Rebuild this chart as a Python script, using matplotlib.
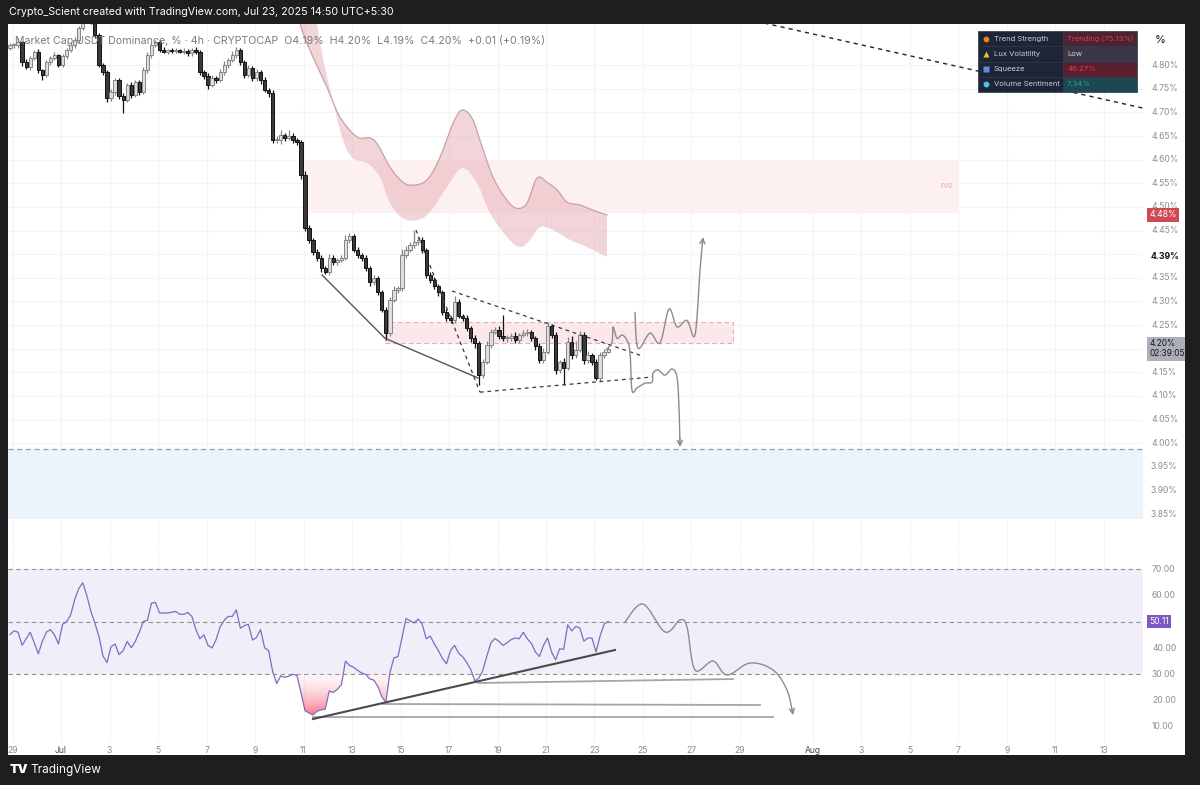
import numpy as np
import pandas as pd
import matplotlib
matplotlib.use("Agg")
import matplotlib.pyplot as plt
from matplotlib.patches import Rectangle, PathPatch
from matplotlib.path import Path
from matplotlib.colors import LinearSegmentedColormap
import matplotlib.transforms as mtransforms

plt.rcParams['font.family'] = ['Inter', 'DejaVu Sans']

# ---------------- data ----------------
# 4h candles of USDT dominance (%), x axis = day of July (Jul 1 00:00 = 1)
bar_start = "2025-06-28 21:30"
first_open = 4.836
closes = [
    4.842, 4.842, 4.849, 4.806, 4.796, 4.815, 4.828, 4.789, 4.779, 4.806,
    4.815, 4.821, 4.800, 4.819, 4.832, 4.842, 4.853, 4.878, 4.895, 4.906,
    4.891, 4.863, 4.800, 4.785, 4.730, 4.743, 4.768, 4.734, 4.726, 4.758,
    4.737, 4.764, 4.743, 4.789, 4.821, 4.842, 4.849, 4.832, 4.828, 4.832,
    4.830, 4.832, 4.828, 4.830, 4.825, 4.832, 4.828, 4.785, 4.777, 4.758,
    4.772, 4.768, 4.785, 4.800, 4.811, 4.821, 4.832, 4.806, 4.779, 4.794,
    4.772, 4.785, 4.768, 4.747, 4.741, 4.641, 4.641, 4.652, 4.646, 4.650,
    4.641, 4.637, 4.567, 4.455, 4.430, 4.404, 4.392, 4.370, 4.362, 4.392,
    4.383, 4.387, 4.392, 4.430, 4.438, 4.409, 4.398, 4.392, 4.370, 4.341,
    4.349, 4.320, 4.282, 4.233, 4.303, 4.324, 4.328, 4.398, 4.409, 4.419,
    4.425, 4.430, 4.409, 4.356, 4.345, 4.332, 4.320, 4.277, 4.265, 4.260,
    4.299, 4.269, 4.265, 4.243, 4.222, 4.212, 4.144, 4.172, 4.208, 4.235,
    4.239, 4.227, 4.222, 4.222, 4.227, 4.218, 4.229, 4.233, 4.235, 4.222,
    4.205, 4.176, 4.193, 4.248, 4.229, 4.155, 4.172, 4.159, 4.214, 4.186,
    4.197, 4.229, 4.176, 4.186, 4.172, 4.138, 4.186, 4.193, 4.200]
# wick extension beyond the body, in thousandths of a percent
wick_up = [
    5, 4, 8, 3, 6, 5, 4, 6, 3, 5, 4, 6, 3, 5, 4, 6, 7, 5, 8, 6,
    9, 17, 6, 5, 4, 6, 5, 4, 6, 5, 6, 4, 5, 8, 6, 7, 5, 4, 6, 3,
    5, 4, 3, 6, 5, 4, 6, 5, 4, 6, 7, 5, 6, 8, 5, 9, 6, 4, 5, 6,
    5, 6, 4, 7, 5, 6, 8, 10, 5, 12, 6, 5, 4, 8, 6, 5, 7, 6, 5, 8,
    6, 5, 6, 10, 7, 5, 6, 4, 6, 5, 6, 5, 4, 7, 6, 8, 5, 12, 9, 7,
    26, 8, 6, 5, 7, 6, 5, 4, 6, 5, 12, 6, 5, 7, 5, 6, 5, 6, 8, 7,
    6, 8, 45, 7, 6, 8, 5, 7, 6, 5, 4, 6, 8, 7, 5, 6, 4, 8, 10, 12,
    20, 8, 6, 10, 5, 6, 8, 6, 4]
wick_dn = [
    4, 6, 5, 7, 5, 6, 4, 6, 11, 5, 6, 4, 5, 3, 6, 4, 5, 6, 4, 5,
    5, 6, 4, 6, 8, 5, 7, 6, 28, 5, 6, 5, 7, 4, 5, 6, 4, 5, 3, 5,
    4, 5, 3, 4, 5, 6, 4, 5, 6, 8, 5, 6, 4, 5, 6, 4, 5, 6, 7, 5,
    6, 5, 7, 4, 8, 6, 5, 7, 6, 5, 6, 5, 8, 6, 7, 5, 6, 8, 5, 6,
    5, 6, 4, 5, 6, 5, 7, 6, 5, 8, 6, 7, 5, 14, 6, 5, 7, 5, 6, 5,
    6, 5, 7, 6, 5, 6, 8, 6, 7, 5, 6, 5, 7, 6, 8, 10, 21, 6, 5, 7,
    5, 6, 5, 7, 6, 5, 6, 5, 7, 6, 8, 7, 6, 5, 7, 8, 6, 36, 5, 7,
    6, 5, 8, 6, 7, 5, 6, 5, 3]
rsi = [
    45.1, 46.5, 46.0, 41.0, 43.5, 46.0, 42.0, 37.8, 42.5, 46.0,
    47.0, 45.0, 41.5, 49.0, 50.0, 52.5, 58.3, 62.5, 64.8, 60.0,
    54.0, 49.5, 44.5, 37.0, 34.5, 40.5, 41.5, 37.5, 39.0, 42.5,
    40.1, 42.5, 46.0, 50.1, 50.5, 57.0, 57.3, 53.3, 53.3, 53.3,
    53.6, 53.9, 52.8, 52.8, 53.5, 52.0, 47.0, 43.5, 45.0, 41.0,
    40.0, 43.2, 48.0, 50.5, 52.0, 52.0, 54.5, 47.5, 48.5, 49.0,
    43.0, 44.0, 47.0, 40.1, 39.0, 31.0, 26.5, 29.4, 28.9, 29.3,
    30.0, 29.6, 23.1, 16.2, 15.3, 14.6, 16.0, 16.5, 16.8, 23.7,
    23.1, 24.3, 26.0, 35.0, 33.4, 32.7, 31.5, 30.5, 30.0, 28.3,
    27.8, 25.5, 21.5, 19.3, 30.6, 36.3, 36.7, 44.0, 51.2, 50.3,
    49.5, 51.0, 49.0, 43.5, 44.5, 41.5, 39.0, 36.0, 34.0, 39.0,
    41.0, 38.0, 36.7, 34.5, 31.9, 27.5, 28.5, 31.5, 37.0, 42.0,
    43.6, 42.5, 41.0, 42.0, 43.2, 43.8, 43.5, 46.0, 43.5, 41.8,
    38.5, 36.8, 41.0, 43.8, 38.5, 35.5, 39.7, 39.5, 48.8, 46.5,
    48.2, 47.6, 42.6, 43.8, 43.8, 38.5, 44.5, 49.0, 50.11]

# zones (day-of-July, price %)
fvg_days = [10.979, 37.990]
fvg_prices = [4.487, 4.600]
box_days = [14.361, 28.711]
box_prices = [4.212, 4.256]
demand_prices = [3.840, 3.988]

# supply cloud
cloud_up_day = [10.773, 10.938, 11.392, 11.969, 12.505, 13.206, 13.742, 14.072, 14.567,
                15.103, 15.515, 16.093, 16.629, 17.165, 17.536, 17.948, 18.278, 18.814,
                19.392, 19.804, 20.216, 20.629, 21.041, 21.454, 21.866, 22.402, 22.938, 23.515]
cloud_up_price = [4.916, 4.874, 4.817, 4.753, 4.690, 4.648, 4.646, 4.631, 4.584,
                  4.552, 4.546, 4.557, 4.605, 4.677, 4.705, 4.688, 4.641, 4.563,
                  4.514, 4.497, 4.508, 4.561, 4.552, 4.536, 4.510, 4.504, 4.493, 4.483]
cloud_lo_day = [11.515, 11.598, 11.845, 12.175, 12.629, 13.041, 13.619, 14.155, 14.567,
                15.103, 15.680, 16.216, 16.918, 17.536, 18.155, 18.691, 19.392, 19.928,
                20.340, 20.753, 21.289, 21.990, 22.691, 23.515]
cloud_lo_price = [4.916, 4.874, 4.804, 4.732, 4.641, 4.603, 4.593, 4.563, 4.508,
                  4.476, 4.472, 4.489, 4.542, 4.582, 4.550, 4.487, 4.436, 4.415,
                  4.430, 4.457, 4.451, 4.430, 4.415, 4.394]

# drawings on price pane
wedge_day = [11.763, 14.361, 18.196]
wedge_price = [4.356, 4.222, 4.138]
steep_day = [15.639, 18.278]
steep_price = [4.451, 4.108]
tri_low_day = [18.278, 25.371]
tri_low_price = [4.108, 4.140]
tri_up_day = [17.124, 25.000]
tri_up_price = [4.322, 4.184]
long_trend_day = [30.0, 45.62]
long_trend_price = [4.889, 4.709]
bear_day = [23.474, 23.722, 23.763, 23.928, 24.134, 24.340, 24.464, 24.546, 24.753,
            25.082, 25.371, 25.412, 25.619, 25.907, 26.196, 26.402, 26.485, 26.526]
bear_price = [4.197, 4.214, 4.246, 4.222, 4.229, 4.218, 4.193, 4.112, 4.117,
              4.127, 4.129, 4.148, 4.155, 4.144, 4.157, 4.140, 4.076, 3.992]
bull_day = [24.670, 24.794, 25.289, 25.701, 26.072, 26.402, 26.814, 27.144, 27.351, 27.474]
bull_price = [4.277, 4.201, 4.233, 4.212, 4.284, 4.246, 4.260, 4.229, 4.366, 4.436]

# drawings on RSI pane
rsi_trend_day = [11.392, 23.845]
rsi_trend_val = [13.03, 39.24]
rsi_h1_day, rsi_h1_val = [11.392, 30.361], [13.79, 13.79]
rsi_h2_day, rsi_h2_val = [14.278, 29.825], [18.73, 18.35]
rsi_h3_day, rsi_h3_val = [18.196, 28.711], [26.70, 28.22]
rsi_proj_day = [24.258, 25.0, 25.907, 26.526, 26.814, 27.144, 27.887, 28.464,
                29.412, 30.361, 30.938, 31.186]
rsi_proj_val = [49.87, 56.71, 46.07, 50.63, 47.97, 31.64, 35.06, 29.74,
                34.30, 31.64, 24.04, 14.55]

tick_days = [-1, 1, 3, 5, 7, 9, 11, 13, 15, 17, 19, 21, 23, 25, 27, 29, 32, 34, 36, 38, 40, 42, 44]
tick_labels = ["29", "Jul", "3", "5", "7", "9", "11", "13", "15", "17", "19", "21", "23",
               "25", "27", "29", "Aug", "3", "5", "7", "9", "11", "13"]
price_ticks = [3.85, 3.90, 3.95, 4.00, 4.05, 4.10, 4.15, 4.25, 4.30, 4.35,
               4.45, 4.50, 4.55, 4.60, 4.65, 4.70, 4.75, 4.80]
rsi_ticks = [10, 20, 30, 40, 60, 70]

table_names = ["Trend Strength", "Lux Volatility", "Squeeze", "Volume Sentiment"]
table_values = ["Trending (75.13%)", "Low", "46.27%", "7.34%"]

# ---------------- helpers ----------------
def catmull(xs, ys, n=14):
    P = np.column_stack([xs, ys]).astype(float)
    P = np.vstack([P[0], P, P[-1]])
    out = []
    t = np.linspace(0, 1, n, endpoint=False)[:, None]
    for i in range(1, len(P) - 2):
        p0, p1, p2, p3 = P[i - 1], P[i], P[i + 1], P[i + 2]
        seg = 0.5 * ((2 * p1) + (-p0 + p2) * t + (2 * p0 - 5 * p1 + 4 * p2 - p3) * t ** 2
                     + (-p0 + 3 * p1 - 3 * p2 + p3) * t ** 3)
        out.append(seg)
    out.append(P[-2][None, :])
    return np.vstack(out)

W, H = 1200, 785
def fr(x0, y0, x1, y1):
    return [x0 / W, 1 - y1 / H, (x1 - x0) / W, (y1 - y0) / H]

XMIN, XMAX = -1.186, 45.619

fig = plt.figure(figsize=(12, 7.85), dpi=100, facecolor='#1e1e1e')
fig.patches.append(Rectangle((8 / W, 1 - 755 / H), 1177 / W, 731 / H, transform=fig.transFigure,
                             facecolor='white', edgecolor='none', zorder=-5))

ax = fig.add_axes(fr(8, 24, 1143, 550))
ax2 = fig.add_axes(fr(8, 552, 1143, 742))
for a in (ax, ax2):
    a.set_facecolor('white')
    for s in a.spines.values():
        s.set_visible(False)
    a.set_xlim(XMIN, XMAX)
    a.tick_params(left=False, labelleft=False, right=False, labelright=False)
ax.set_ylim(3.774, 4.887)
ax2.set_ylim(4.30, 76.46)
ax.tick_params(bottom=False, labelbottom=False)

# grid
for d in tick_days:
    ax.axvline(d, color='#f2f3f6', lw=0.8, zorder=0)
    ax2.axvline(d, color='#f2f3f6', lw=0.8, zorder=0)
for p in price_ticks + [4.20, 4.40]:
    ax.axhline(p, color='#f3f4f7', lw=0.8, zorder=0)

# ---------------- price pane ----------------
ax.axhspan(demand_prices[0], demand_prices[1], color='#edf3fd', zorder=0.5, lw=0)
ax.axhline(demand_prices[1], color='#8d9fbd', lw=0.9, ls=(0, (4, 3)), zorder=0.6)

ax.add_patch(Rectangle((fvg_days[0], fvg_prices[0]), fvg_days[1] - fvg_days[0],
                       fvg_prices[1] - fvg_prices[0], facecolor='#fdf0f1', edgecolor='none', zorder=0.6))
ax.text(fvg_days[1] - 0.2, np.mean(fvg_prices), "FVG", color='#e6a3aa', fontsize=4.5,
        ha='right', va='center', zorder=0.7)

up_s = catmull(cloud_up_day, cloud_up_price)
lo_s = catmull(cloud_lo_day, cloud_lo_price)
poly = np.vstack([up_s, lo_s[::-1]])
ax.fill(poly[:, 0], poly[:, 1], facecolor='#e7b3b8', alpha=0.55, edgecolor='none', zorder=0.8)
ax.plot(up_s[:, 0], up_s[:, 1], color='#c9a1a5', lw=0.9, zorder=0.85)

ax.add_patch(Rectangle((box_days[0], box_prices[0]), box_days[1] - box_days[0],
                       box_prices[1] - box_prices[0], facecolor='#fce8ea', edgecolor='#dcb0b5',
                       lw=0.8, ls=(0, (4, 3)), zorder=0.9))

# candles
bar_times = pd.date_range(bar_start, periods=len(closes), freq='4h')
bx = ((bar_times - pd.Timestamp('2025-07-01')) / pd.Timedelta(days=1)).to_numpy() + 1.0
c = np.array(closes)
o = np.array([first_open] + closes[:-1])
hi = np.maximum(o, c) + np.array(wick_up) / 1000
lo = np.minimum(o, c) - np.array(wick_dn) / 1000
bull = c >= o
wick_col = np.where(bull, '#858585', '#111111')
face = np.where(bull, '#dedede', '#3a3a3a')
edge = np.where(bull, '#858585', '#111111')
ax.vlines(bx, lo, hi, colors=wick_col, lw=0.9, zorder=2)
ax.bar(bx, np.maximum(np.abs(c - o), 0.0018), bottom=np.minimum(o, c), width=0.135,
       color=face, edgecolor=edge, linewidth=0.7, zorder=2.1)

# drawings
ax.plot(wedge_day, wedge_price, color='#555555', lw=1.0, zorder=3)
for dx, dy in [(steep_day, steep_price), (tri_low_day, tri_low_price), (tri_up_day, tri_up_price)]:
    ax.plot(dx, dy, color='#3a3a3a', lw=0.9, ls=(0, (3, 3)), zorder=3)
ax.plot(long_trend_day, long_trend_price, color='#222222', lw=1.0, ls=(0, (3, 3)), zorder=3)

for dd, pp, col in [(bear_day, bear_price, '#8c8c8c'), (bull_day, bull_price, '#8c8c8c')]:
    s = catmull(dd, pp, n=10)
    ax.plot(s[:-1, 0], s[:-1, 1], color=col, lw=1.0, zorder=3, solid_capstyle='round')
    ax.annotate('', xy=(s[-1, 0], s[-1, 1]), xytext=(s[-4, 0], s[-4, 1]),
                arrowprops=dict(arrowstyle='->', color=col, lw=1.0, shrinkA=0, shrinkB=0,
                                mutation_scale=9), zorder=3)

# price axis labels
trp = mtransforms.blended_transform_factory(ax.transAxes, ax.transData)
fx = lambda px: (px - 8) / 1135
for p in price_ticks:
    ax.text(fx(1151), p, f"{p:.2f}%", transform=trp, fontsize=6.2, color='#8a8d96',
            ha='left', va='center', clip_on=False, zorder=5)
ax.text(fx(1151), 4.394, "4.39%", transform=trp, fontsize=6.3, color='#131722',
        fontweight='bold', ha='left', va='center', clip_on=False, zorder=5)
ax.text(fx(1149), 4.483, "4.48%", transform=trp, fontsize=6.2, color='white', ha='left',
        va='center', clip_on=False, zorder=6,
        bbox=dict(boxstyle='square,pad=0.25', fc='#cf4a52', ec='none'))
ax.text(fx(1149), 4.200, "4.20%\n02:39:05", transform=trp, fontsize=6.0, color='#131722',
        ha='left', va='center', clip_on=False, zorder=6, linespacing=1.1,
        bbox=dict(boxstyle='square,pad=0.3', fc='#aeb0b8', ec='none'))

# ---------------- RSI pane ----------------
ax2.axhspan(30, 70, color='#f1edf9', zorder=0.5, lw=0)
for lv in (70, 50, 30):
    ax2.axhline(lv, color='#8f919b', lw=0.8, ls=(0, (4, 3)), zorder=0.6)

r = np.array(rsi)
fb = ax2.fill_between(bx, r, 30, where=r < 30, interpolate=True, facecolor='none', edgecolor='none')
paths = fb.get_paths()
if paths:
    cp = Path.make_compound_path(*paths)
    patch = PathPatch(cp, transform=ax2.transData, facecolor='none', edgecolor='none')
    ax2.add_patch(patch)
    cmap = LinearSegmentedColormap.from_list('g', [(1.0, 0.86, 0.88, 0.15), (0.96, 0.33, 0.44, 0.95)])
    grad = np.linspace(0, 1, 256).reshape(-1, 1)
    im = ax2.imshow(grad, cmap=cmap, origin='upper', aspect='auto',
                    extent=[bx[0], bx[-1], 12.5, 30], zorder=0.9)
    im.set_clip_path(patch)

ax2.plot(bx, r, color='#7e6cc0', lw=0.9, zorder=2)

ax2.plot(rsi_trend_day, rsi_trend_val, color='#4a4a4a', lw=1.5, zorder=3)
for dd, vv in [(rsi_h1_day, rsi_h1_val), (rsi_h2_day, rsi_h2_val), (rsi_h3_day, rsi_h3_val)]:
    ax2.plot(dd, vv, color='#a5a5a5', lw=1.3, zorder=2.5)
s = catmull(rsi_proj_day, rsi_proj_val, n=10)
ax2.plot(s[:-1, 0], s[:-1, 1], color='#8c8c8c', lw=1.0, zorder=3)
ax2.annotate('', xy=(s[-1, 0], s[-1, 1]), xytext=(s[-4, 0], s[-4, 1]),
             arrowprops=dict(arrowstyle='->', color='#8c8c8c', lw=1.0, shrinkA=0, shrinkB=0,
                             mutation_scale=9), zorder=3)

trr = mtransforms.blended_transform_factory(ax2.transAxes, ax2.transData)
for v in rsi_ticks:
    ax2.text(fx(1152), v, f"{v:.2f}", transform=trr, fontsize=6.2, color='#8a8d96',
             ha='left', va='center', clip_on=False, zorder=5)
ax2.text(fx(1149), r[-1], f"{r[-1]:.2f}", transform=trr, fontsize=6.2, color='white',
         ha='left', va='center', clip_on=False, zorder=6,
         bbox=dict(boxstyle='square,pad=0.25', fc='#7e57c2', ec='none'))

ax2.set_xticks(tick_days)
ax2.set_xticklabels(tick_labels)
ax2.tick_params(axis='x', length=0, pad=3, labelsize=6.2, labelcolor='#8a8d96')
for lbl in ax2.get_xticklabels():
    if lbl.get_text() in ("Jul", "Aug"):
        lbl.set_color('#4a4d58')

# ---------------- overlay (frame, legend, table) ----------------
ov = fig.add_axes([0, 0, 1, 1], zorder=10)
ov.set_xlim(0, W)
ov.set_ylim(H, 0)
ov.axis('off')
ov.patch.set_alpha(0)
for (x0, y0, w, h) in [(0, 0, W, 24), (0, 755, W, 30), (0, 0, 8, H), (1185, 0, 15, H)]:
    ov.add_patch(Rectangle((x0, y0), w, h, facecolor='#1e1e1e', edgecolor='none'))
ov.text(9, 12, "Crypto_Scient created with TradingView.com, Jul 23, 2025 14:50 UTC+5:30",
        color='white', fontsize=7.7, ha='left', va='center')
ov.text(15, 41, "Market Cap USDT Dominance, % · 4h · CRYPTOCAP  O4.19%  H4.20%  L4.19%  C4.20%  +0.01 (+0.19%)",
        color='#787b86', fontsize=7.65, ha='left', va='center')
ov.text(1160, 40, "%", color='#131722', fontsize=8, ha='center', va='center')
ov.text(10, 770, "TV", color='white', fontsize=9, fontweight='black', ha='left', va='center')
ov.text(30, 770, "TradingView", color='white', fontsize=8.5, ha='left', va='center')

# indicator table
tx0, tx1, tsplit = 978, 1137, 1063
row_h = 15.25
val_bg = ['#4a2335', '#3d3647', '#5a1f2e', '#1d4753']
val_fg = ['#f0344a', '#cfd1d8', '#f0344a', '#26a69a']
for k in range(4):
    y0 = 31 + k * row_h
    ov.add_patch(Rectangle((tx0, y0), tsplit - tx0, row_h, facecolor='#1e2537', edgecolor='#2c3448', lw=0.5))
    ov.add_patch(Rectangle((tsplit, y0), tx1 - tsplit, row_h, facecolor=val_bg[k], edgecolor='#2c3448', lw=0.5))
    ov.text(994, y0 + row_h / 2, table_names[k], color='#c9ccd6', fontsize=5.5, ha='left', va='center')
    ov.text(1067, y0 + row_h / 2, table_values[k], color=val_fg[k], fontsize=5.5, ha='left', va='center')
icons = [('o', '#f57c1f'), ('^', '#f5c518'), ('s', '#5b8bd6'), ('o', '#4fc3f7')]
for k, (m, col) in enumerate(icons):
    ov.plot([986], [31 + k * row_h + row_h / 2], marker=m, color=col, markersize=4.2, mec='none')

fig.savefig("out.png", dpi=100, facecolor=fig.get_facecolor())
